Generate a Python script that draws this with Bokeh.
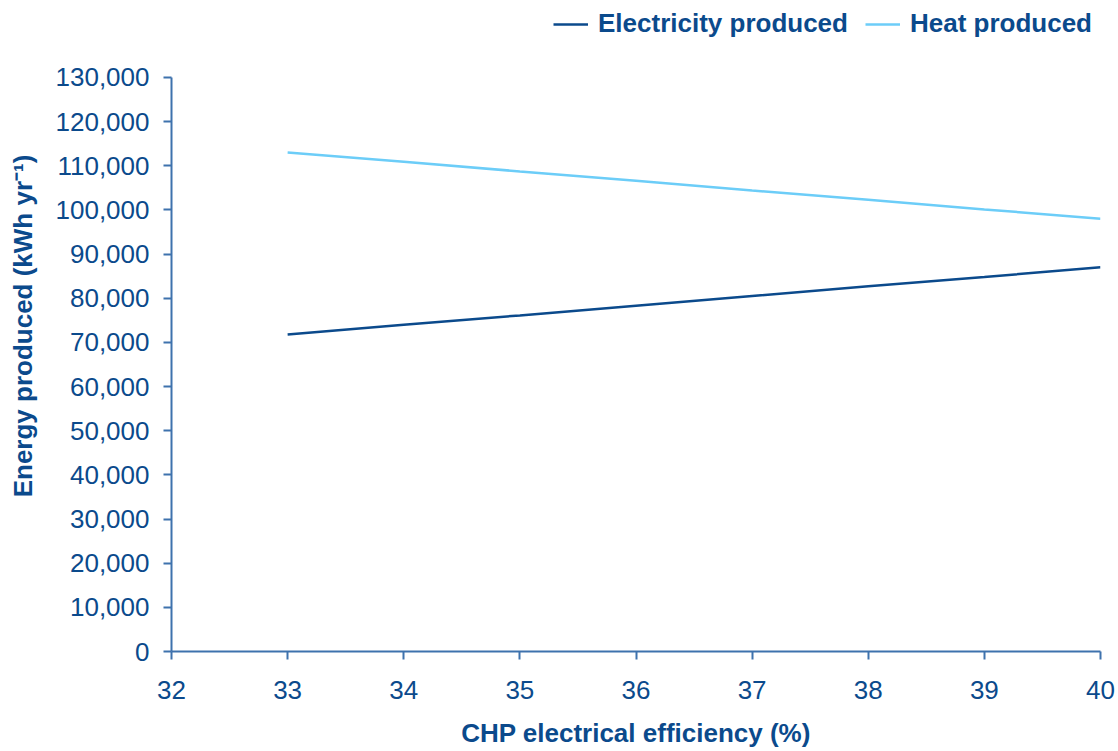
from bokeh.plotting import figure
from bokeh.models import Range1d, FixedTicker, NumeralTickFormatter, Legend, LegendItem
from bokeh.embed import file_html
from bokeh.resources import INLINE

efficiency = [33, 34, 35, 36, 37, 38, 39, 40]
electricity = [71800, 74000, 76100, 78300, 80500, 82700, 84800, 87000]
heat = [113000, 110900, 108700, 106600, 104400, 102300, 100100, 98000]
x_ticks = [32, 33, 34, 35, 36, 37, 38, 39, 40]
y_ticks = list(range(0, 130001, 10000))

TEXT = "#0b4a8c"
AXIS = "#3e72ad"
FONT = "Liberation Sans"

# frame starts at the very top; the extra headroom above 130,000 holds the legend
Y_TOP = 130000 + 77 * 130000 / 575

p = figure(width=1116, height=750, output_backend="svg", toolbar_location=None,
           x_range=Range1d(32, 40), y_range=Range1d(0, Y_TOP),
           min_border_left=171, min_border_right=16, min_border_top=0, min_border_bottom=90)
p.outline_line_color = None
p.grid.grid_line_color = None
p.background_fill_color = "white"
p.border_fill_color = "white"

r1 = p.line(efficiency, electricity, line_color="#0b4a8c", line_width=2.5)
r2 = p.line(efficiency, heat, line_color="#6ccdf8", line_width=2.5)

for ax in (p.xaxis[0], p.yaxis[0]):
    ax.axis_line_color = AXIS
    ax.axis_line_width = 2
    ax.major_tick_line_color = AXIS
    ax.major_tick_line_width = 2
    ax.major_tick_out = 8
    ax.major_tick_in = 0
    ax.minor_tick_line_color = None
    ax.major_label_text_font = FONT
    ax.major_label_text_font_size = "26px"
    ax.major_label_text_color = TEXT
    ax.axis_label_text_font = FONT
    ax.axis_label_text_font_size = "26px"
    ax.axis_label_text_font_style = "bold"
    ax.axis_label_text_color = TEXT

p.yaxis.bounds = (0, 130000)
p.xaxis.ticker = FixedTicker(ticks=x_ticks)
p.yaxis.ticker = FixedTicker(ticks=y_ticks)
p.yaxis.formatter = NumeralTickFormatter(format="0,0")
p.xaxis.axis_label = "CHP electrical efficiency (%)"
p.yaxis.axis_label = "Energy produced (kWh yr\u207b\u00b9)"
p.xaxis.major_label_standoff = 21
p.yaxis.major_label_standoff = 14
p.xaxis.axis_label_standoff = 16
p.yaxis.axis_label_standoff = 15

legend = Legend(items=[LegendItem(label="Electricity produced", renderers=[r1]),
                       LegendItem(label="Heat produced", renderers=[r2])],
                orientation="horizontal", location="top_right")
legend.label_text_font = FONT
legend.label_text_font_size = "26px"
legend.label_text_font_style = "bold"
legend.label_text_color = TEXT
legend.glyph_width = 35
legend.label_standoff = 10
legend.spacing = 17
legend.padding = 0
legend.margin = 8
legend.border_line_color = None
legend.background_fill_alpha = 0
p.add_layout(legend, "center")

open("out.html", "w").write(file_html(p, INLINE))
